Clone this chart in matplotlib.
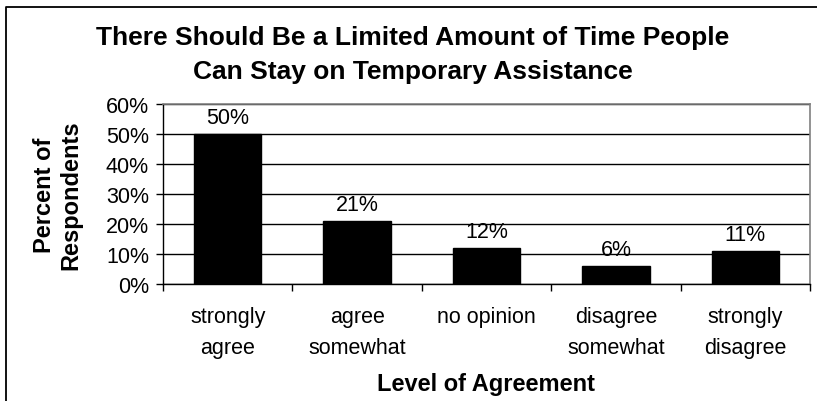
import numpy as np
import matplotlib
matplotlib.use("Agg")
import matplotlib.pyplot as plt
from matplotlib.lines import Line2D

# ---------------------------------------------------------------------------
# Data
# ---------------------------------------------------------------------------

categories = ["strongly\nagree", "agree\nsomewhat", "no opinion",
              "disagree\nsomewhat", "strongly\ndisagree"]
percents = [50, 21, 12, 6, 11]
y_ticks = [0, 10, 20, 30, 40, 50, 60]

TITLE = "There Should Be a Limited Amount of Time People\nCan Stay on Temporary Assistance"

# ---------------------------------------------------------------------------
# Figure
# ---------------------------------------------------------------------------

plt.rcParams["font.family"] = ["Liberation Sans", "DejaVu Sans"]
FS = 15.5

fig = plt.figure(figsize=(8.17, 4.02), dpi=100, facecolor="white")
ax = fig.add_axes([0.1995, 0.291, 0.7919, 0.4478])

x = np.arange(len(categories))
ax.bar(x, percents, width=0.52, color="black", edgecolor="black", zorder=3)

for xi, v in zip(x, percents):
    ax.text(xi, v + 2.0, f"{v}%", ha="center", va="bottom", fontsize=FS)

ax.set_xlim(-0.5, len(categories) - 0.5)
ax.set_ylim(0, 60)
ax.set_yticks(y_ticks)
ax.set_yticklabels([f"{t}%" for t in y_ticks], fontsize=FS)
ax.yaxis.grid(True, color="black", linewidth=1.0, zorder=0)
ax.set_axisbelow(True)

ax.set_xticks(x)
ax.set_xticklabels(categories, fontsize=FS, linespacing=1.62)
ax.tick_params(axis="x", length=0, pad=16)
ax.set_xticks(np.arange(len(categories) + 1) - 0.5, minor=True)
ax.tick_params(axis="x", which="minor", length=5, width=1.0, direction="out")
ax.tick_params(axis="y", length=5, width=1.0, direction="out", pad=5)

for side in ("top", "right"):
    ax.spines[side].set_color("#808080")
    ax.spines[side].set_linewidth(1.2)
for side in ("left", "bottom"):
    ax.spines[side].set_color("black")
    ax.spines[side].set_linewidth(1.0)

ax.set_ylabel("Percent of\nRespondents", fontsize=17, fontweight="bold",
              linespacing=1.15, va="center")
ax.yaxis.set_label_coords(-0.163, 0.5)
ax.set_xlabel("Level of Agreement", fontsize=17, fontweight="bold", va="center")
ax.xaxis.set_label_coords(0.5, -0.55)

fig.text(0.505, 0.863, TITLE, ha="center", va="center", fontsize=19,
         fontweight="bold", linespacing=1.55)

# chart frame (only top and left edges visible in the crop)
fig.add_artist(Line2D([6 / 817, 6 / 817, 1.0], [0.0, 1 - 8 / 402, 1 - 8 / 402],
                      transform=fig.transFigure, color="black", linewidth=1.3))

fig.savefig("out.png", dpi=100, facecolor="white")
plt.close(fig)
